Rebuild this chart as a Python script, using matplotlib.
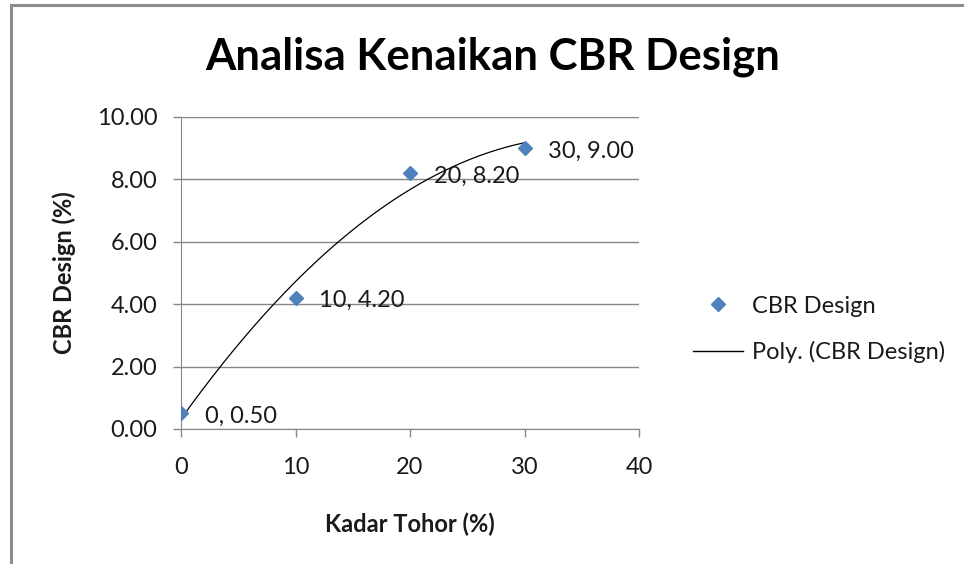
import numpy as np
import matplotlib
matplotlib.use("Agg")
import matplotlib.pyplot as plt
from matplotlib.lines import Line2D

plt.rcParams.update({"font.family": ["Lato", "DejaVu Sans"]})

kadar = [0, 10, 20, 30]
cbr = [0.50, 4.20, 8.20, 9.00]
x_ticks = [0, 10, 20, 30, 40]
y_ticks = [0, 2, 4, 6, 8, 10]

BLUE = "#4F81BD"; GRID = "#868686"; TXT = "#1a1a1a"

fig = plt.figure(figsize=(9.64, 5.64), dpi=100)
ax = fig.add_axes([0.1878, 0.2394, 0.4751, 0.5532])

# polynomial trendline (order 2), like Excel's "Poly."
c = np.polyfit(kadar, cbr, 2)
xx = np.linspace(min(kadar), max(kadar), 200)
ax.plot(xx, np.polyval(c, xx), color="black", lw=0.9, zorder=2)
ax.plot(kadar, cbr, ls="none", marker="D", ms=7.5, color=BLUE, mec=BLUE, zorder=3)

for x, y in zip(kadar, cbr):
    ax.annotate(f"{x}, {y:.2f}", (x, y), xytext=(17, -2), textcoords="offset points",
                va="center", ha="left", fontsize=17, color=TXT)

ax.set_xlim(0, 40); ax.set_ylim(0, 10)
ax.set_xticks(x_ticks); ax.set_yticks(y_ticks)
ax.set_yticklabels([f"{v:.2f}" for v in y_ticks])
ax.tick_params(labelsize=17, colors=GRID, labelcolor=TXT, length=6, width=1)
ax.tick_params(axis="y", pad=11)
ax.tick_params(axis="x", pad=14)
ax.grid(axis="y", color=GRID, lw=1)
ax.set_axisbelow(True)
for s in ["top", "right"]:
    ax.spines[s].set_visible(False)
for s in ["left", "bottom"]:
    ax.spines[s].set_color(GRID)

ax.set_xlabel("Kadar Tohor (%)", fontsize=17, fontweight="bold", labelpad=25, color=TXT)
ax.set_ylabel("CBR Design (%)", fontsize=17, fontweight="bold", labelpad=15, color=TXT)

fig.text(493 / 964, 1 - 57 / 564, "Analisa Kenaikan CBR Design", ha="center", va="center",
         fontsize=31.5, fontweight="bold", color="black")

handles = [Line2D([], [], ls="none", marker="D", ms=7, color=BLUE),
           Line2D([], [], color="black", lw=1)]
fig.legend(handles, ["CBR Design", "Poly. (CBR Design)"], loc="center left",
           bbox_to_anchor=(693 / 964, 1 - 329.5 / 564), frameon=False, fontsize=17,
           handlelength=2.1, handletextpad=0.4, labelspacing=1.05,
           borderpad=0, borderaxespad=0, labelcolor=TXT)

# outer chart frame (only top and left visible in the crop)
fig.add_artist(Line2D([10.5 / 964, 10.5 / 964], [0, 1 - 5 / 564], color="#8c8c8c", lw=2.2))
fig.add_artist(Line2D([10.5 / 964, 1], [1 - 5 / 564, 1 - 5 / 564], color="#8c8c8c", lw=2.2))

fig.savefig("out.png", dpi=100, facecolor="white")
